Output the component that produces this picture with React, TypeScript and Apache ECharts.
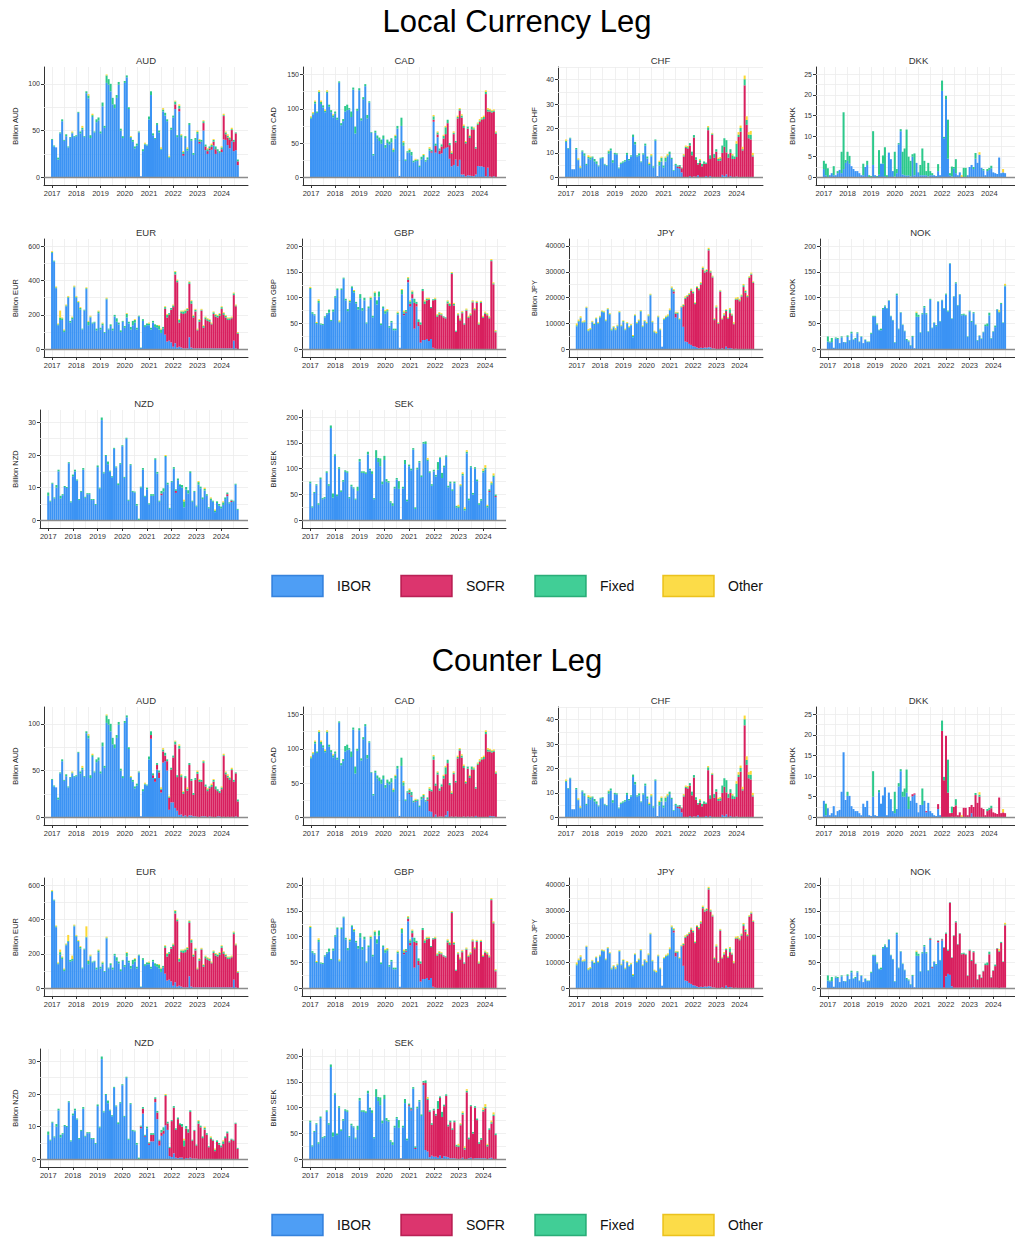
import React, { useEffect, useRef } from "react";
import * as echarts from "echarts";

const FONT = "'Liberation Sans', Arial, Helvetica, sans-serif";
const FIRST_YEAR = 2017;
const YEAR_LABELS = [2017, 2018, 2019, 2020, 2021, 2022, 2023, 2024];
const SERIES_NAMES = ["IBOR", "SOFR", "Fixed", "Other"];
const COLORS: Record<string, string> = { IBOR: "#3b93f4", SOFR: "#d81f5e", Fixed: "#2cc98b", Other: "#fcd834" };
const LEGEND_STROKE: Record<string, string> = { IBOR: "#2a7ad8", SOFR: "#b3154a", Fixed: "#1ea66f", Other: "#e9bd10" };
const MAIN_TITLES = ["Local Currency Leg", "Counter Leg"];

// helpers that only place read values at their month index
function at(start: number, values: number[]): number[] {
  return new Array(start).fill(0).concat(values);
}
function pairs(list: [number, number][]): number[] {
  const a: number[] = [];
  list.forEach(([i, v]) => { a[i] = v; });
  return a;
}

// ---------------- AUD ----------------
const AUD_TOTAL = [
  41, 34, 32, 21, 48, 62, 40, 46, 33, 43, 49, 44,
  45, 70, 49, 55, 44, 92, 89, 45, 68, 49, 62, 64,
  49, 80, 55, 110, 105, 100, 85, 78, 88, 102, 52, 44,
  103, 109, 75, 44, 40, 33, 36, 49, 1, 30, 37, 35,
  65, 92, 47, 42, 58, 50, 32, 74, 69, 62, 23, 53,
  66, 82, 45, 78, 46, 28, 44, 32, 58, 41, 26, 42,
  50, 41, 40, 61, 35, 31, 33, 36, 41, 33, 30, 28,
  33, 68, 49, 46, 43, 53, 40, 48, 19,
];
const AUD_FIXED = [
  1, 1, 0, 2, 1, 2, 1, 2, 1, 1, 1, 1,
  1, 1, 2, 2, 1, 2, 3, 3, 2, 1, 3, 3,
  2, 4, 2, 8, 6, 8, 7, 4, 3, 3, 2, 2,
  2, 2, 2, 1, 2, 2, 2, 1, 0, 2, 1, 1,
  3, 4, 2, 1, 2, 2, 1, 2, 3, 2, 1, 2,
  2, 3, 2, 3, 2, 2, 2, 2, 2, 2, 2, 2,
  2, 2, 2, 2, 2, 2, 2, 2, 2, 3, 2, 2,
  2, 1, 2, 2, 2, 1, 2, 1, 2,
];
const AUD_OTHER = [
  0, 0, 0, 0, 0, 0, 0, 0, 0, 0, 1, 0,
  0, 0, 0, 2, 0, 0, 1.5, 0, 1.5, 0, 0, 0,
  0, 0, 0, 1, 0, 0, 0, 0, 0, 0, 0, 0,
  0, 0, 0, 1, 0, 0, 0, 0, 0, 0, 1, 0,
  0, 0, 0, 0, 0, 0, 1.5, 1.5, 0, 0, 1, 0,
  0, 1, 0, 1.5, 1, 1, 0, 1.5, 0, 0, 0, 0,
  1.5, 1, 0, 1, 0, 1, 0, 1.5, 1, 0, 0, 0,
  1, 1.5, 1, 1.5, 1, 1.5, 0, 0, 0,
];
const AUD_SOFR_L = at(60, [
  0, 5, 0, 3, 0, 2, 0, 0, 0, 0, 0, 0,
  0, 2, 0, 8, 4, 3, 2, 3, 4, 5, 0, 0,
  3, 25, 6, 8, 9, 12, 10, 18, 4,
]);
const AUD_SOFR_C = at(48, [
  0, 4, 3, 3, 5, 6, 3, 12, 6, 10, 13, 35,
  48, 68, 36, 71, 40, 24, 40, 28, 54, 37, 23, 39,
  46, 38, 37, 57, 32, 28, 30, 32, 38, 30, 27, 25,
  30, 65, 46, 42, 40, 50, 38, 46, 17,
]);

// ---------------- CAD ----------------
const CAD_TOTAL = [
  89, 95, 112, 96, 127, 112, 105, 99, 127, 106, 98, 92,
  96, 87, 140, 79, 85, 104, 106, 101, 96, 131, 74, 100,
  130, 86, 117, 136, 91, 111, 66, 34, 68, 61, 58, 55,
  61, 47, 55, 52, 57, 42, 62, 75, 2, 87, 53, 26,
  38, 42, 37, 24, 27, 26, 17, 30, 34, 25, 29, 44,
  40, 91, 49, 67, 42, 48, 62, 75, 84, 50, 38, 67,
  53, 90, 101, 92, 77, 53, 74, 62, 74, 73, 44, 80,
  85, 88, 90, 127, 101, 100, 98, 99, 67,
];
const CAD_FIXED = [
  2, 2, 3, 2, 2, 3, 3, 2, 2, 3, 3, 3,
  3, 3, 2, 3, 3, 8, 8, 2, 8, 3, 10, 3,
  3, 3, 3, 3, 5, 2, 1, 2, 3, 4, 5, 6,
  5, 4, 5, 4, 6, 3, 4, 4, 0, 12, 5, 2,
  2, 4, 5, 2, 2, 2, 2, 4, 3, 2, 3, 3,
  2, 5, 3, 3, 3, 3, 4, 10, 5, 3, 2, 2,
  2, 2, 2, 3, 3, 2, 3, 3, 4, 2, 2, 2,
  2, 2, 3, 3, 3, 2, 2, 2, 2,
];
const CAD_OTHER = [
  1.5, 1.5, 1.5, 0, 2, 2, 0, 2, 2, 0, 0, 1.5,
  0, 0, 0, 0, 0, 0, 0, 0, 0, 0, 0, 0,
  0, 0, 0, 0, 0, 0, 0, 0, 0, 0, 0, 0,
  0, 0, 0, 0, 0, 2, 1.5, 0, 0, 0, 2, 0,
  0, 2, 0, 0, 1.5, 0, 0, 0, 1.5, 0, 0, 2,
  0, 2, 0, 1.5, 0, 0, 1.5, 2, 0, 0, 2, 2,
  0, 2, 1.5, 2, 2, 1.5, 0, 1.5, 0, 1.5, 0, 1.5,
  2, 2, 2, 2.5, 2, 2, 1.5, 1.5, 1.5,
];
const CAD_SOFR_L = at(59, [
  0, 2, 3, 10, 4, 5, 10, 15, 20, 35, 20, 18, 45,
  25, 70, 72, 83, 68, 48, 68, 55, 68, 68, 38, 60,
  65, 68, 70, 120, 82, 95, 94, 94, 63,
]);
const CAD_SOFR_C = at(48, [
  0, 2, 2, 0, 1, 0, 0, 0, 1, 0, 2, 30,
  30, 84, 42, 62, 38, 44, 56, 60, 70, 47, 33, 63,
  50, 86, 97, 87, 71, 49, 70, 57, 69, 69, 40, 76,
  81, 84, 85, 121, 96, 94, 93, 94, 63,
]);

// ---------------- CHF ----------------
const CHF_TOTAL = [
  15.5, 12, 16.2, 3.3, 3.3, 12, 7.8, 4.5, 11, 9.8, 5.5, 9,
  8.5, 8.5, 7.5, 6.5, 4.8, 8, 8.2, 5.5, 5, 11, 11.8, 7,
  10, 9.8, 4, 6, 6.5, 7, 10, 7.5, 9, 17.5, 14.5, 9,
  9.8, 6.5, 9.8, 13.8, 8.5, 6, 9.5, 4.5, 15.5, 0.5, 6.8, 8.5,
  4.8, 8.5, 9.5, 10.5, 8, 3, 5.5, 4.8, 5, 4, 9.5, 13,
  12.8, 14, 10.5, 17.3, 8.2, 5.8, 7.5, 5.5, 6.5, 6, 21, 9,
  18.2, 9.5, 11.5, 8, 8.3, 13, 16, 15.2, 9.5, 11.5, 9.5, 8.5,
  14.8, 18.5, 21.2, 12.5, 41.7, 25, 18.5, 19, 10,
];
const CHF_FIXED = [
  0.5, 0.3, 0.3, 0, 0, 0.5, 0.3, 0.3, 0.5, 1, 0.5, 0.5,
  1, 0.5, 1, 1, 0.3, 0.3, 0.3, 0.3, 0.3, 1, 0.8, 1,
  0.5, 0.5, 0.3, 0.5, 0.5, 0.5, 0.8, 0.5, 0.5, 1, 1, 0.5,
  0.8, 0.3, 0.5, 0.8, 0.8, 0.5, 0.5, 0.5, 0.5, 0, 1.5, 1.5,
  0.8, 1.5, 0.5, 1, 0.5, 0.3, 0.5, 0.5, 0.5, 0.3, 0.5, 0.5,
  0.5, 1, 1.5, 1, 1, 0.5, 1, 1, 1, 0.5, 1.2, 1.5,
  0.5, 1.5, 1, 0.8, 1, 3, 3.5, 5, 1.5, 1.5, 1.5, 1,
  5.5, 1, 1.5, 0.5, 2.5, 2, 1.5, 2, 0.5,
];
const CHF_OTHER = [
  0.5, 0, 0, 0, 0, 0, 0.5, 0.5, 0, 0, 0, 0.7,
  0.3, 0, 0, 0, 0, 0, 0, 0, 0, 0.3, 0, 0,
  0, 0, 0, 0, 0, 0, 0, 0, 0, 0, 0, 0,
  0, 0, 0, 0, 0, 0.5, 0.5, 0, 0, 0, 0.5, 0.5,
  0, 0.5, 0.5, 0, 0, 0, 0, 0, 0, 0, 0.5, 0.5,
  0.5, 0, 0, 0, 0, 0, 0.5, 0, 0, 0, 0.5, 0,
  0.3, 0, 0, 0.5, 0.5, 0, 0, 0, 0, 0, 0.5, 0,
  1, 1, 1, 1, 1.5, 1.5, 1, 1.5, 1,
];
const CHF_SOFR = at(55, [
  0.5, 1, 1.7, 8.5, 12,
  11.8, 12.5, 9, 16, 7, 4.5, 6, 4.5, 5.5, 5, 19.3, 7,
  17.4, 8, 10.5, 6.7, 6.8, 9, 12, 9, 8, 9.5, 7.5, 7.5,
  8, 16.5, 18.7, 11, 37.7, 21.5, 16, 15.5, 8.5,
]);

// ---------------- DKK ----------------
const DKK_TOTAL = [
  4, 3.3, 2.2, 0.5, 1, 2.7, 0.5, 1.5, 1.8, 6.2, 15.8, 4.2,
  6.2, 5.2, 2.7, 2, 1.5, 1.5, 1, 0.5, 3.3, 2.5, 4, 0.5,
  0.3, 11.2, 0.5, 0.3, 6.6, 3.3, 5.3, 7.3, 0.5, 6, 4.4, 1.5,
  6.2, 2, 8.3, 11.7, 6.2, 7, 11.6, 5, 4, 5.6, 5.8, 3.5,
  1.2, 3, 7, 4, 1.5, 3.5, 1.5, 1, 0.5, 0.3, 3.2, 0.5,
  23.5, 9.8, 19.8, 14, 1, 2.6, 2.5, 4.4, 0.5, 1.2, 0.5, 2.3,
  2.3, 0.5, 2.5, 3, 2.5, 5.9, 3.5, 6.1, 2.3, 2, 0.5, 2,
  2.3, 2.8, 1.2, 1, 0.8, 4.8, 1, 2, 1,
];
const DKK_FIXED_L = [
  2, 2.8, 2.2, 0, 0, 2.2, 0, 0.5, 0, 5.2, 13.8, 0.7,
  2.2, 1.9, 0, 0, 0, 0, 0, 0, 2.8, 0, 1, 0.5,
  0.3, 8.2, 0, 0.3, 6, 0, 2, 7, 0.5, 0, 0, 0,
  6, 1, 0.3, 0.5, 5.5, 6.5, 11.2, 4.5, 3.8, 0.6, 5.3, 0,
  0, 2.5, 6.5, 3.5, 1, 3.3, 1, 0.5, 0, 0, 1.7, 0,
  2.5, 0.3, 0.8, 9.5, 0.5, 2.4, 0.3, 3.4, 0, 0, 0, 2.3,
  2.3, 0, 0, 0, 0.5, 1.4, 0, 0, 0, 0.3, 0, 0.5,
  0.5, 0.6, 0, 0, 0, 0, 0, 0, 0,
];
const DKK_FIXED_C = [
  0, 2.8, 0, 0, 0, 0, 0, 0, 0, 0, 0, 0,
  1, 0, 0, 0, 0, 0, 0, 0, 0, 0, 0, 0,
  0, 6.2, 0, 0, 0.5, 0, 0, 0, 0, 0, 0, 0,
  5.2, 0, 0.8, 0.5, 1.2, 2, 5.6, 3, 0, 0, 0, 0,
  0, 0, 4, 0, 0, 0, 0, 0, 0, 0, 0, 0,
  2.5, 0.8, 0, 8, 0, 1.5, 0, 1.5, 0, 0, 0, 0,
  0, 0, 0, 0, 0, 0.5, 0, 0.5, 0, 0, 0, 0.5,
  0.5, 0.6, 0, 0, 0, 0, 0, 0, 0,
];
const DKK_OTHER = pairs([[70, 0.5], [79, 0.6], [91, 0.8]]);
const DKK_SOFR_L: number[] = [];
const DKK_SOFR_C = at(45, [
  0.5, 0.3, 0, 0, 0, 0, 0, 0.3, 0, 0, 0, 0, 0, 1.2, 0,
  21, 9, 19.8, 6, 1, 1, 2.5, 2.8, 0.5, 1.2, 0, 2.3,
  2.3, 0.5, 2.5, 2, 2.5, 5.4, 3.5, 5, 2.3, 2, 0.5, 1.5,
  1.8, 2.2, 1.2, 1, 0.8, 4.8, 1, 1.2, 1,
]);

// ---------------- EUR ----------------
const EUR_TOTAL = [
  570, 515, 365, 150, 225, 185, 115, 260, 310, 165, 190, 370,
  310, 280, 245, 120, 230, 360, 165, 195, 155, 160, 120, 225,
  125, 155, 100, 300, 120, 145, 120, 200, 180, 155, 110, 165,
  135, 210, 160, 130, 165, 175, 125, 195, 10, 175, 140, 150,
  155, 125, 165, 145, 140, 140, 120, 130, 250, 205, 210, 240,
  260, 455, 405, 175, 225, 225, 230, 240, 395, 285, 200, 235,
  120, 175, 235, 140, 190, 180, 175, 155, 220, 205, 200, 210,
  250, 215, 200, 185, 185, 190, 330, 260, 100,
];
const EUR_FIXED = [
  5, 5, 5, 5, 15, 10, 10, 5, 5, 10, 10, 5,
  5, 5, 10, 5, 5, 5, 20, 5, 5, 5, 10, 10,
  10, 10, 5, 5, 5, 10, 10, 10, 20, 10, 10, 5,
  10, 20, 10, 15, 25, 15, 10, 5, 2, 10, 10, 10,
  10, 10, 10, 15, 15, 20, 20, 10, 10, 15, 10, 10,
  10, 15, 10, 15, 10, 15, 15, 10, 10, 15, 10, 10,
  5, 10, 5, 10, 10, 10, 10, 5, 10, 10, 10, 10,
  10, 10, 10, 10, 10, 5, 10, 5, 5,
];
const EUR_OTHER_L = [
  5, 0, 5, 5, 40, 5, 5, 5, 5, 0, 5, 5,
  5, 5, 5, 0, 0, 5, 5, 5, 0, 0, 0, 5,
  0, 5, 0, 5, 0, 0, 0, 0, 0, 0, 0, 0,
  0, 5, 0, 0, 0, 5, 0, 0, 0, 0, 0, 0,
  5, 0, 0, 0, 0, 5, 5, 0, 5, 5, 0, 0,
  5, 5, 5, 5, 5, 5, 5, 5, 5, 5, 5, 5,
  5, 5, 5, 5, 5, 5, 5, 5, 5, 5, 5, 5,
  5, 5, 5, 5, 5, 5, 5, 5, 5,
];
const EUR_OTHER_C = [
  5, 0, 5, 5, 15, 5, 5, 5, 35, 0, 20, 5,
  5, 5, 5, 0, 0, 60, 5, 5, 0, 0, 0, 5,
  0, 5, 0, 5, 0, 0, 0, 0, 0, 0, 0, 0,
  0, 5, 0, 0, 0, 5, 0, 0, 0, 0, 0, 0,
  5, 0, 0, 0, 0, 5, 5, 0, 5, 5, 0, 0,
  5, 5, 5, 5, 5, 5, 5, 5, 5, 5, 5, 5,
  5, 5, 5, 5, 5, 5, 5, 5, 5, 5, 5, 5,
  5, 5, 5, 5, 5, 5, 5, 5, 5,
];
const EUR_SOFR = at(56, [
  150, 140, 150, 190,
  230, 400, 380, 140, 200, 200, 205, 220, 310, 255, 180, 215,
  105, 155, 220, 120, 170, 160, 155, 140, 200, 185, 180, 190,
  230, 195, 180, 165, 165, 175, 265, 245, 90,
]);

// ---------------- GBP ----------------
const GBP_TOTAL = [
  121, 72, 68, 53, 97, 50, 49, 64, 70, 77, 57, 77,
  103, 118, 56, 118, 139, 98, 78, 96, 122, 115, 92, 82,
  107, 80, 100, 52, 83, 102, 65, 112, 95, 112, 50, 83,
  76, 78, 45, 55, 40, 40, 73, 3, 117, 75, 76, 140,
  95, 114, 98, 92, 58, 52, 117, 95, 100, 100, 82, 97,
  100, 68, 72, 70, 64, 62, 95, 90, 150, 90, 36, 70,
  60, 74, 50, 79, 65, 70, 95, 80, 94, 52, 94, 65,
  73, 70, 64, 175, 130, 37,
];
const GBP_FIXED = [
  2, 3, 2, 2, 4, 2, 2, 2, 2, 6, 2, 4,
  3, 3, 2, 3, 2, 3, 4, 3, 3, 3, 3, 5,
  8, 5, 5, 2, 3, 4, 3, 8, 8, 10, 3, 3,
  5, 3, 3, 3, 3, 3, 3, 0, 8, 3, 3, 3,
  5, 5, 8, 4, 5, 4, 4, 5, 3, 2, 2, 2,
  2, 3, 3, 2, 2, 2, 4, 4, 2, 3, 2, 2,
  2, 2, 2, 2, 2, 2, 2, 2, 2, 2, 2, 2,
  2, 2, 2, 2, 2, 2,
];
const GBP_OTHER = [
  2, 0, 0, 2, 3, 0, 0, 0, 0, 0, 0, 0,
  0, 0, 2, 0, 0, 0, 0, 2, 0, 2, 0, 0,
  0, 0, 0, 0, 0, 2, 0, 2, 0, 0, 0, 0,
  2, 2, 0, 0, 0, 0, 2, 0, 2, 3, 0, 2,
  2, 2, 0, 0, 0, 0, 0, 2, 2, 2, 0, 0,
  2, 2, 2, 2, 0, 0, 2, 2, 2, 2, 0, 2,
  2, 2, 0, 2, 2, 2, 2, 2, 2, 2, 2, 2,
  2, 2, 2, 2, 2, 2,
];
const GBP_SOFR = at(45, [
  3, 2, 5,
  5, 8, 50, 5, 8, 35, 95, 70, 75, 80, 60, 92,
  95, 63, 67, 66, 62, 60, 89, 84, 146, 85, 34, 66,
  56, 70, 48, 75, 61, 66, 91, 76, 90, 48, 90, 61,
  69, 66, 60, 171, 126, 33,
]);

// ---------------- JPY ----------------
const JPY_TOTAL = [
  10000, 11500, 12800, 10800, 11200, 16500, 7800, 8200, 11000, 10000, 12300, 10500,
  13000, 15000, 14800, 11500, 16000, 14000, 8000, 9000, 8200, 9500, 14800, 9500,
  11200, 8000, 10500, 9000, 9800, 5500, 13500, 10500, 11500, 15200, 9200, 11300,
  10500, 13500, 21500, 11000, 7200, 6800, 13000, 8000, 1000, 12000, 13000, 13500,
  15800, 24300, 23300, 14500, 14500, 12000, 16800, 17500, 20500, 21000, 21800, 23500,
  22500, 18200, 24500, 23700, 26000, 32000, 30500, 31000, 39300, 30500, 28500, 12000,
  17000, 10500, 23000, 12200, 14000, 15500, 12500, 16000, 13800, 10500, 20000, 20200,
  19500, 21200, 25300, 23000, 21000, 28300, 29700, 26300,
];
const JPY_FIXED = [
  400, 300, 300, 200, 300, 200, 300, 300, 300, 400, 300, 300,
  400, 300, 300, 300, 300, 300, 400, 300, 300, 300, 300, 300,
  400, 300, 300, 300, 300, 400, 300, 300, 300, 300, 300, 300,
  300, 300, 300, 300, 300, 200, 300, 300, 0, 300, 400, 400,
  300, 400, 500, 400, 500, 300, 300, 500, 500, 400, 400, 500,
  500, 400, 500, 500, 500, 500, 500, 600, 500, 500, 400, 400,
  400, 300, 400, 300, 500, 400, 400, 1500, 400, 300, 300, 400,
  400, 500, 700, 700, 400, 300, 400, 300,
];
const JPY_OTHER = [
  700, 500, 500, 300, 500, 300, 500, 400, 300, 200, 300, 300,
  300, 300, 300, 300, 300, 300, 300, 300, 500, 300, 300, 300,
  300, 300, 300, 300, 300, 400, 300, 300, 300, 300, 300, 300,
  300, 400, 300, 300, 300, 500, 300, 300, 0, 300, 400, 400,
  500, 400, 400, 300, 300, 300, 300, 300, 500, 300, 300, 300,
  300, 300, 300, 300, 400, 500, 300, 300, 500, 300, 300, 300,
  500, 300, 300, 300, 500, 300, 300, 500, 300, 500, 500, 500,
  500, 300, 500, 400, 400, 400, 400, 300,
];
const JPY_SOFR = at(50, [
  800, 1500, 0, 0, 0,
  8000, 16500, 17500, 19000, 21000,
  20500, 16500, 23000, 22500, 24500, 30500, 29000, 29500, 37500, 29000, 27500, 11000,
  16000, 9800, 22200, 11200, 13000, 13800, 11500, 13500, 12800, 9700, 19000, 19300,
  18600, 20300, 24100, 21900, 20200, 27500, 28900, 25700,
]);

// ---------------- NOK ----------------
const NOK_TOTAL = [
  25, 15, 22, 3, 23, 22, 12, 25, 14, 14, 27, 18,
  34, 19, 22, 33, 15, 25, 12, 19, 15, 15, 32, 65,
  65, 50, 38, 40, 80, 85, 80, 95, 65, 57, 14, 108,
  40, 72, 48, 36, 20, 17, 8, 26, 2, 73, 67, 33,
  70, 84, 70, 35, 98, 42, 52, 47, 93, 55, 96, 80,
  108, 75, 167, 60, 103, 130, 86, 107, 68, 69, 67, 25,
  75, 55, 72, 48, 18, 27, 21, 34, 48, 50, 71, 22,
  35, 46, 78, 76, 90, 52, 127,
];
const NOK_FIXED = [
  10, 2, 8, 0, 2, 2, 0, 2, 0, 1, 3, 1,
  3, 1, 2, 2, 1, 1, 0, 1, 1, 1, 2, 2,
  2, 2, 1, 3, 2, 2, 1, 1, 1, 1, 1, 3,
  1, 1, 1, 1, 2, 2, 1, 2, 0, 8, 4, 1,
  2, 3, 2, 1, 2, 1, 1, 2, 1, 1, 1, 1,
  2, 2, 1, 1, 1, 2, 1, 1, 2, 2, 2, 1,
  2, 2, 2, 1, 1, 1, 1, 1, 3, 5, 5, 1,
  1, 3, 1, 2, 2, 1, 2,
];
const NOK_OTHER = pairs([[45, 2], [87, 3], [90, 3]]);
const NOK_SOFR_L: number[] = [];
const NOK_SOFR_C = at(48, [
  0, 0, 0, 0, 2, 2, 0, 0, 3, 0, 2, 78,
  83, 45, 140, 55, 101, 127, 84, 105, 65, 66, 64, 23,
  72, 52, 68, 46, 16, 25, 19, 32, 44, 44, 65, 20,
  33, 42, 76, 71, 87, 50, 121,
]);

// ---------------- NZD ----------------
const NZD_TOTAL = [
  8.5, 6, 11.5, 7, 10.8, 15.5, 7.5, 8, 10.5, 10.2, 17.8, 5.8,
  14, 15.5, 12.5, 6.5, 9, 16, 7.2, 8.3, 8.3, 6.5, 6.5, 5,
  16.8, 10, 31.5, 14.7, 20, 18, 15.2, 13.5, 22.2, 16.5, 11.3, 17.5,
  23, 13.3, 25.3, 6.3, 17.2, 9, 8.8, 5, 0.5, 10.3, 16, 7.5,
  10, 5.2, 8, 8, 19, 14.8, 6, 9, 9.8, 20, 11.5, 3.8,
  12, 16.3, 9.5, 12.8, 11, 10.8, 6.3, 10.2, 9.2, 15, 6, 9,
  4.5, 12, 10.3, 7, 10, 8, 4, 7, 6, 3.3, 5.8, 5,
  4.2, 5.8, 7, 8.5, 5.5, 6.3, 6, 11.2, 3.5,
];
const NZD_FIXED = [
  1, 0.3, 0.3, 0.3, 0.8, 0.5, 0.8, 0.3, 0.3, 0.3, 0.3, 0.3,
  0.5, 0.5, 0.3, 0.3, 0.3, 0.5, 0.3, 0.3, 0.3, 0.3, 0.3, 0.3,
  0.5, 0.3, 0.8, 0.3, 0.3, 0.8, 0.3, 0.3, 0.3, 0.3, 0.5, 0.3,
  0.3, 0.3, 0.3, 0.3, 0.3, 0.3, 0.3, 0.5, 0.5, 0.3, 0.5, 0.3,
  0.5, 0.3, 0.5, 0.5, 0.5, 0.5, 0.3, 0.8, 1, 0.3, 0.5, 0.3,
  0.3, 0.5, 0.5, 0.5, 0.5, 0.8, 1.8, 0.8, 1, 0.5, 0.3, 0.3,
  0.3, 0.8, 0.5, 0.5, 0.5, 0.5, 0.3, 0.5, 0.3, 0.5, 0.5, 0.5,
  0.5, 0.8, 0.5, 0.5, 0.3, 0.3, 0.3, 0.3, 0.3,
];
const NZD_OTHER = pairs([[57, 0.3], [66, 0.5], [73, 0.3], [76, 0.4], [79, 0.3], [81, 0.3], [85, 0.3]]);
const NZD_SOFR_L = pairs([[55, 0.5], [62, 0.6], [87, 0.6], [89, 0.4]]);
const NZD_SOFR_C = at(45, [
  0.5, 1.5, 0.3, 0, 0.5, 2, 2, 1, 2, 1.5, 1, 1, 9, 2, 2.5,
  11, 14, 8.5, 12, 10, 9.5, 4, 9, 8, 14, 5.5, 8.5,
  4, 10.9, 9.8, 6.5, 9, 7.5, 3.6, 6.2, 5.7, 2.5, 5.3, 4.5,
  3.7, 4.7, 6.5, 8, 5.2, 6, 5.7, 10.9, 3.2,
]);

// ---------------- SEK ----------------
const SEK_TOTAL = [
  75, 27, 55, 70, 33, 83, 43, 45, 95, 70, 184, 52,
  128, 50, 103, 58, 78, 97, 95, 45, 69, 64, 42, 65,
  119, 95, 95, 93, 133, 100, 95, 43, 136, 121, 120, 75,
  125, 80, 76, 37, 33, 65, 82, 76, 2, 65, 117, 40,
  108, 100, 140, 25, 102, 115, 87, 152, 153, 121, 95, 70,
  98, 88, 113, 122, 92, 106, 126, 67, 75, 60, 75, 28,
  30, 70, 93, 25, 136, 42, 105, 53, 103, 79, 33, 41,
  100, 107, 30, 60, 75, 91, 50,
];
const SEK_FIXED = [
  3, 2, 2, 2, 3, 3, 2, 2, 3, 3, 5, 8,
  3, 3, 3, 3, 3, 3, 3, 2, 3, 2, 2, 8,
  5, 3, 3, 3, 5, 3, 5, 2, 15, 8, 15, 5,
  8, 5, 3, 3, 5, 3, 3, 15, 0, 3, 8, 3,
  3, 3, 3, 3, 3, 3, 3, 3, 5, 3, 3, 3,
  3, 3, 15, 3, 10, 3, 3, 3, 3, 3, 3, 3,
  3, 2, 3, 3, 3, 3, 2, 3, 3, 3, 3, 3,
  3, 3, 3, 3, 3, 3, 3,
];
const SEK_OTHER = pairs([[57, 3], [72, 3], [73, 2], [74, 3], [75, 3], [76, 3], [84, 4], [85, 5], [86, 2], [88, 3], [89, 4]]);
const SEK_SOFR_L = pairs([[87, 2], [90, 2]]);
const SEK_SOFR_C = at(48, [
  2, 2, 0, 2, 0, 0, 0, 5, 130, 100, 88, 60,
  90, 80, 95, 112, 80, 97, 118, 60, 70, 55, 70, 24,
  24, 65, 84, 19, 130, 37, 100, 49, 98, 74, 28, 36,
  91, 97, 25, 55, 66, 84, 47,
]);

// ---------------- panel table ----------------
type PanelSpec = {
  cur: string; row: number; col: number; left: number; yMax: number; yStep: number;
  total: number[]; fixedL: number[]; fixedC: number[]; otherL: number[]; otherC: number[];
  sofrL: number[]; sofrC: number[];
};
const PANELS: PanelSpec[] = [
  { cur: "AUD", row: 0, col: 0, left: 44, yMax: 118, yStep: 50, total: AUD_TOTAL, fixedL: AUD_FIXED, fixedC: AUD_FIXED, otherL: AUD_OTHER, otherC: AUD_OTHER, sofrL: AUD_SOFR_L, sofrC: AUD_SOFR_C },
  { cur: "CAD", row: 0, col: 1, left: 303, yMax: 161, yStep: 50, total: CAD_TOTAL, fixedL: CAD_FIXED, fixedC: CAD_FIXED, otherL: CAD_OTHER, otherC: CAD_OTHER, sofrL: CAD_SOFR_L, sofrC: CAD_SOFR_C },
  { cur: "CHF", row: 0, col: 2, left: 558, yMax: 45.2, yStep: 10, total: CHF_TOTAL, fixedL: CHF_FIXED, fixedC: CHF_FIXED, otherL: CHF_OTHER, otherC: CHF_OTHER, sofrL: CHF_SOFR, sofrC: CHF_SOFR },
  { cur: "DKK", row: 0, col: 3, left: 816, yMax: 26.8, yStep: 5, total: DKK_TOTAL, fixedL: DKK_FIXED_L, fixedC: DKK_FIXED_C, otherL: DKK_OTHER, otherC: DKK_OTHER, sofrL: DKK_SOFR_L, sofrC: DKK_SOFR_C },
  { cur: "EUR", row: 1, col: 0, left: 44, yMax: 641, yStep: 200, total: EUR_TOTAL, fixedL: EUR_FIXED, fixedC: EUR_FIXED, otherL: EUR_OTHER_L, otherC: EUR_OTHER_C, sofrL: EUR_SOFR, sofrC: EUR_SOFR },
  { cur: "GBP", row: 1, col: 1, left: 302, yMax: 214, yStep: 50, total: GBP_TOTAL, fixedL: GBP_FIXED, fixedC: GBP_FIXED, otherL: GBP_OTHER, otherC: GBP_OTHER, sofrL: GBP_SOFR, sofrC: GBP_SOFR },
  { cur: "JPY", row: 1, col: 2, left: 569, yMax: 42700, yStep: 10000, total: JPY_TOTAL, fixedL: JPY_FIXED, fixedC: JPY_FIXED, otherL: JPY_OTHER, otherC: JPY_OTHER, sofrL: JPY_SOFR, sofrC: JPY_SOFR },
  { cur: "NOK", row: 1, col: 3, left: 820, yMax: 214, yStep: 50, total: NOK_TOTAL, fixedL: NOK_FIXED, fixedC: NOK_FIXED, otherL: NOK_OTHER, otherC: NOK_OTHER, sofrL: NOK_SOFR_L, sofrC: NOK_SOFR_C },
  { cur: "NZD", row: 2, col: 0, left: 40, yMax: 33.8, yStep: 10, total: NZD_TOTAL, fixedL: NZD_FIXED, fixedC: NZD_FIXED, otherL: NZD_OTHER, otherC: NZD_OTHER, sofrL: NZD_SOFR_L, sofrC: NZD_SOFR_C },
  { cur: "SEK", row: 2, col: 1, left: 302, yMax: 214, yStep: 50, total: SEK_TOTAL, fixedL: SEK_FIXED, fixedC: SEK_FIXED, otherL: SEK_OTHER, otherC: SEK_OTHER, sofrL: SEK_SOFR_L, sofrC: SEK_SOFR_C },
];

// ---------------- layout ----------------
const COL_RIGHT = [248, 506, 763, 1021];
const NAME_X = [15, 273, 534, 792];
const ROW_TOP = [[67, 239, 410], [707, 878, 1049]];
const PLOT_H = 118;
const TITLE_Y = [21, 660];
const LEGEND_Y = [586, 1225];
const LEGEND_BOX_X = [272, 401, 535, 663];

const v = (a: number[], i: number) => (a[i] === undefined ? 0 : a[i]);

function buildOption() {
  const grid: any[] = [];
  const xAxis: any[] = [];
  const yAxis: any[] = [];
  const series: any[] = [];
  const graphic: any[] = [];
  let k = 0;

  [0, 1].forEach((leg) => {
    graphic.push({
      type: "text", x: 517, y: TITLE_Y[leg], silent: true,
      style: { text: MAIN_TITLES[leg], fontSize: 31, fontFamily: FONT, fill: "#000", textAlign: "center", textVerticalAlign: "middle" },
    });
    SERIES_NAMES.forEach((name, j) => {
      const bx = LEGEND_BOX_X[j];
      graphic.push({
        type: "rect", silent: true, shape: { x: bx, y: LEGEND_Y[leg] - 10.5, width: 51, height: 21 },
        style: { fill: COLORS[name], stroke: LEGEND_STROKE[name], lineWidth: 1.5, opacity: 0.9 },
      });
      graphic.push({
        type: "text", silent: true, x: bx + 65, y: LEGEND_Y[leg],
        style: { text: name, fontSize: 14, fontFamily: FONT, fill: "#111", textAlign: "left", textVerticalAlign: "middle" },
      });
    });

    PANELS.forEach((p) => {
      const top = ROW_TOP[leg][p.row];
      const width = COL_RIGHT[p.col] - p.left;
      const n = p.total.length;
      const xMin = FIRST_YEAR - 4 / 12;
      const xMax = FIRST_YEAR + (n - 1) / 12 + 0.42;
      const yMin = -p.yMax * 0.07;
      const monthPx = width / ((xMax - xMin) * 12);
      const barWidth = Math.max(1, monthPx);

      const fixed = leg === 0 ? p.fixedL : p.fixedC;
      const other = leg === 0 ? p.otherL : p.otherC;
      const sofr = leg === 0 ? p.sofrL : p.sofrC;

      const xs = p.total.map((_, i) => FIRST_YEAR + i / 12);
      const comp: Record<string, number[]> = { IBOR: [], SOFR: [], Fixed: [], Other: [] };
      p.total.forEach((t, i) => {
        const f = v(fixed, i), o = v(other, i), s = v(sofr, i);
        comp.SOFR.push(s);
        comp.Fixed.push(f);
        comp.Other.push(o);
        comp.IBOR.push(Math.max(0, Math.round((t - f - o - s) * 100) / 100));
      });

      const yTicks: number[] = [];
      for (let t = 0; t <= p.yMax; t += p.yStep) yTicks.push(t);
      const yGrid: number[] = [];
      for (let t = p.yStep / 2; t <= p.yMax; t += p.yStep / 2) yGrid.push(t);
      const xGrid: number[] = [];
      for (let t = FIRST_YEAR; t <= 2024.5; t += 0.5) if (t <= xMax) xGrid.push(t);

      grid.push({ left: p.left, top, width, height: PLOT_H, containLabel: false });
      xAxis.push({
        type: "value", gridIndex: k, min: xMin, max: xMax,
        axisLine: { show: true, onZero: false, lineStyle: { color: "#333", width: 1 } },
        axisTick: { show: true, length: 3, customValues: YEAR_LABELS, lineStyle: { color: "#333" } },
        axisLabel: { show: true, customValues: YEAR_LABELS, formatter: (val: number) => String(Math.round(val)), fontSize: 7.5, color: "#333", margin: 4, fontFamily: FONT },
        splitLine: { show: false },
      });
      yAxis.push({
        type: "value", gridIndex: k, min: yMin, max: p.yMax,
        name: "Billion " + p.cur, nameLocation: "middle", nameRotate: 90,
        nameGap: p.left - NAME_X[p.col] - 4,
        nameTextStyle: { fontSize: 7.5, color: "#222", fontFamily: FONT },
        axisLine: { show: true, onZero: false, lineStyle: { color: "#333", width: 1 } },
        axisTick: { show: true, length: 3, customValues: yTicks, lineStyle: { color: "#333" } },
        axisLabel: { show: true, customValues: yTicks, formatter: (val: number) => String(val), fontSize: 7, color: "#333", margin: 4, fontFamily: FONT },
        splitLine: { show: false },
      });

      graphic.push({
        type: "text", silent: true, x: p.left + width / 2, y: top - 7,
        style: { text: p.cur, fontSize: 9.5, fontFamily: FONT, fill: "#333", textAlign: "center", textVerticalAlign: "middle" },
      });

      SERIES_NAMES.forEach((name, j) => {
        // value first so that the stacked dimension is the y value (stack by index)
        const s: any = {
          type: "bar", name, xAxisIndex: k, yAxisIndex: k, stack: "panel" + k,
          encode: { x: 1, y: 0 },
          barWidth, silent: true, emphasis: { disabled: true },
          itemStyle: { color: COLORS[name] },
          data: comp[name].map((val, i) => [val, xs[i]]),
        };
        if (j === 0) {
          s.markLine = {
            silent: true, z: 1, symbol: ["none", "none"], label: { show: false },
            lineStyle: { color: "#ececec", width: 0.8, type: "solid" }, emphasis: { disabled: true },
            data: [...xGrid.map((x) => ({ xAxis: x })), ...yGrid.map((y) => ({ yAxis: y }))],
          };
        }
        if (j === 3) {
          s.markLine = {
            silent: true, z: 6, symbol: ["none", "none"], label: { show: false },
            lineStyle: { color: "#8c8c8c", width: 1.4, type: "solid" }, emphasis: { disabled: true },
            data: [{ yAxis: 0 }],
          };
        }
        series.push(s);
      });
      k++;
    });
  });

  return {
    animation: false,
    backgroundColor: "#fff",
    textStyle: { fontFamily: FONT },
    grid, xAxis, yAxis, series, graphic,
  };
}

export default function App() {
  const ref = useRef<HTMLDivElement>(null);
  useEffect(() => {
    if (!ref.current) return;
    const chart = echarts.init(ref.current, undefined, { renderer: "svg" });
    chart.setOption(buildOption() as any);
    return () => chart.dispose();
  }, []);
  return <div ref={ref} style={{ position: "absolute", left: 0, top: 0, width: 1015, height: 1237, background: "#fff" }} />;
}
